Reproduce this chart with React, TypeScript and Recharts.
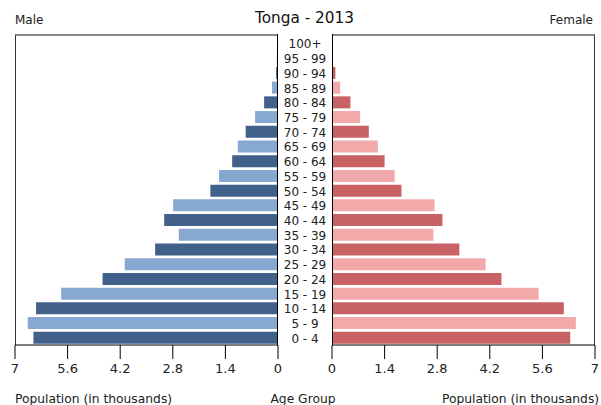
import React from "react";
import { BarChart, Bar, XAxis, YAxis, Cell } from "recharts";

document.body.style.margin = "0";

const AGE_GROUPS = [
  "100+", "95 - 99", "90 - 94", "85 - 89", "80 - 84", "75 - 79", "70 - 74",
  "65 - 69", "60 - 64", "55 - 59", "50 - 54", "45 - 49", "40 - 44", "35 - 39",
  "30 - 34", "25 - 29", "20 - 24", "15 - 19", "10 - 14", "5 - 9", "0 - 4",
];

// population in thousands, same order as AGE_GROUPS (oldest first)
const MALE = [
  0.005, 0.03, 0.05, 0.16, 0.37, 0.61, 0.86, 1.07, 1.22, 1.57, 1.8,
  2.79, 3.03, 2.64, 3.27, 4.08, 4.67, 5.77, 6.44, 6.66, 6.51,
];
const FEMALE = [
  0.01, 0.01, 0.09, 0.22, 0.49, 0.75, 0.98, 1.22, 1.4, 1.67, 1.85,
  2.73, 2.94, 2.7, 3.39, 4.09, 4.51, 5.5, 6.17, 6.49, 6.34,
];

const TICKS = [0, 1.4, 2.8, 4.2, 5.6, 7];

const MALE_DARK = "#41618a";
const MALE_LIGHT = "#87a8d0";
const FEMALE_DARK = "#c96264";
const FEMALE_LIGHT = "#f2a9aa";

const FONT = "DejaVu Sans, Verdana, sans-serif";

const maleData = AGE_GROUPS.map((age, i) => ({ age, value: MALE[i] }));
const femaleData = AGE_GROUPS.map((age, i) => ({ age, value: FEMALE[i] }));

// darker shade on 0-4, 10-14, ... counting from the bottom
const isDark = (i: number) => (AGE_GROUPS.length - 1 - i) % 2 === 0;

const tickStyle = { fontSize: 13, fill: "#222", fontFamily: FONT, dy: 3 };

function AgeTick(props: any) {
  const { y, payload } = props;
  return (
    <text x={27} y={y} dy={5} textAnchor="middle" fontSize={12} fill="#222" fontFamily={FONT}>
      {payload.value}
    </text>
  );
}

const labelStyle: React.CSSProperties = {
  position: "absolute",
  fontSize: 12.3,
  color: "#222",
  whiteSpace: "nowrap",
};

export default function App() {
  return (
    <div style={{ position: "relative", width: 601, height: 405, background: "#fff", fontFamily: FONT, overflow: "hidden" }}>
      <div style={{ position: "absolute", top: 9, left: 4, width: 601, textAlign: "center", fontSize: 15.3, color: "#111" }}>
        Tonga - 2013
      </div>
      <div style={{ ...labelStyle, top: 13, left: 15, fontSize: 12 }}>Male</div>
      <div style={{ ...labelStyle, top: 13, right: 8, fontSize: 12 }}>Female</div>

      {/* plot frames */}
      <div style={{ position: "absolute", left: 15, top: 34, width: 263, height: 311, borderTop: "2px solid #888", borderLeft: "1px solid #333", boxSizing: "border-box" }} />
      <div style={{ position: "absolute", left: 332, top: 34, width: 263, height: 311, borderTop: "2px solid #888", borderRight: "1px solid #333", boxSizing: "border-box" }} />

      <div style={{ position: "absolute", left: 0, top: 0 }}>
        <BarChart
          width={300}
          height={405}
          layout="vertical"
          data={maleData}
          margin={{ top: 36, right: 22, bottom: 30, left: 15 }}
          barCategoryGap={1.5}
        >
          <XAxis
            type="number"
            domain={[0, 7]}
            ticks={TICKS}
            reversed
            tickSize={14}
            height={30}
            tick={tickStyle}
            tickFormatter={(v) => String(v)}
            stroke="#000"
            interval={0}
          />
          <YAxis type="category" dataKey="age" hide width={0} />
          <Bar dataKey="value" isAnimationActive={false}>
            {maleData.map((d, i) => (
              <Cell key={d.age} fill={isDark(i) ? MALE_DARK : MALE_LIGHT} />
            ))}
          </Bar>
        </BarChart>
      </div>

      <div style={{ position: "absolute", left: 278, top: 0 }}>
        <BarChart
          width={323}
          height={405}
          layout="vertical"
          data={femaleData}
          margin={{ top: 36, right: 6, bottom: 30, left: 0 }}
          barCategoryGap={1.5}
        >
          <XAxis
            type="number"
            domain={[0, 7]}
            ticks={TICKS}
            tickSize={14}
            height={30}
            tick={tickStyle}
            tickFormatter={(v) => String(v)}
            stroke="#000"
            interval={0}
          />
          <YAxis
            type="category"
            dataKey="age"
            width={54}
            axisLine={false}
            tickLine={false}
            tick={<AgeTick />}
            interval={0}
          />
          <Bar dataKey="value" isAnimationActive={false}>
            {femaleData.map((d, i) => (
              <Cell key={d.age} fill={isDark(i) ? FEMALE_DARK : FEMALE_LIGHT} />
            ))}
          </Bar>
        </BarChart>
      </div>

      {/* zero lines */}
      <div style={{ position: "absolute", left: 277, top: 34, width: 1, height: 311, background: "#000" }} />
      <div style={{ position: "absolute", left: 332, top: 34, width: 1, height: 311, background: "#000" }} />

      <div style={{ ...labelStyle, top: 392, left: 15 }}>Population (in thousands)</div>
      <div style={{ ...labelStyle, top: 392, left: 0, width: 606, textAlign: "center" }}>Age Group</div>
      <div style={{ ...labelStyle, top: 392, left: 442 }}>Population (in thousands)</div>
    </div>
  );
}
